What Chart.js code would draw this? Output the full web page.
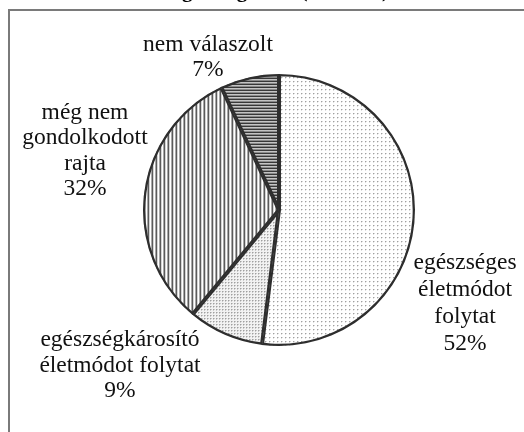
<!DOCTYPE html>
<html>
<head>
<meta charset="utf-8">
<script src="https://cdn.jsdelivr.net/npm/chart.js@4/dist/chart.umd.min.js"></script>
<style>
  html, body { margin: 0; padding: 0; background: #fff; }
  #wrap { width: 524px; height: 432px; }
</style>
</head>
<body>
<div id="wrap"><canvas id="chart-pie" width="524" height="432"></canvas></div>
<script>
// data
const categories = [
  'egészséges életmódot folytat',
  'egészségkárosító életmódot folytat',
  'még nem gondolkodott rajta',
  'nem válaszolt'
];
const shares = [52, 9, 32, 7];

// label text, broken into lines as in the picture
const labelLines = [
  ['egészséges', 'életmódot', 'folytat'],
  ['egészségkárosító', 'életmódot folytat'],
  ['még nem', 'gondolkodott', 'rajta'],
  ['nem válaszolt']
];

// where each label block sits (centre x, first line y, line gap)
const labelPos = [
  { x: 465, y: 263, gap: 27 },
  { x: 120, y: 340, gap: 25.5 },
  { x: 85, y: 113, gap: 25.3 },
  { x: 208, y: 45, gap: 25 }
];

const FONT = '"Liberation Serif", "DejaVu Serif", serif';

function makePattern(w, h, draw) {
  const c = document.createElement('canvas');
  c.width = w;
  c.height = h;
  const g = c.getContext('2d');
  draw(g);
  return g.createPattern(c, 'repeat');
}

function px(g, x, y, col) {
  g.fillStyle = col;
  g.fillRect(x, y, 1, 1);
}

// sparse dots
const patLight = makePattern(4, 4, g => {
  g.fillStyle = '#fff';
  g.fillRect(0, 0, 4, 4);
  px(g, 1, 1, '#a0a0a0');
  px(g, 2, 1, '#d8d8d8');
  px(g, 1, 2, '#e0e0e0');
});

// dense dots
const patDense = makePattern(3, 3, g => {
  g.fillStyle = '#f2f2f2';
  g.fillRect(0, 0, 3, 3);
  px(g, 0, 0, '#a0a0a0');
  px(g, 1, 0, '#c8c8c8');
  px(g, 0, 1, '#cccccc');
});

// vertical stripes
const patVert = makePattern(4, 4, g => {
  const cols = ['#5a5a5a', '#d4d4d4', '#ffffff', '#a8a8a8'];
  cols.forEach((col, i) => { g.fillStyle = col; g.fillRect(i, 0, 1, 4); });
});

// horizontal stripes
const patHorz = makePattern(3, 3, g => {
  const rows = ['#383838', '#c4c4c4', '#8a8a8a'];
  rows.forEach((col, i) => { g.fillStyle = col; g.fillRect(0, i, 3, 1); });
});

const framePlugin = {
  id: 'frame',
  beforeDraw(chart) {
    const ctx = chart.ctx;
    ctx.save();
    ctx.fillStyle = '#fff';
    ctx.fillRect(0, 0, chart.width, chart.height);
    // cut-off title at the very top
    ctx.fillStyle = '#000';
    ctx.font = 'bold 21px ' + FONT;
    ctx.textAlign = 'center';
    ctx.textBaseline = 'alphabetic';
    ctx.fillText('Az egészségtudat (százalék)', 266, -3);
    // frame
    ctx.strokeStyle = '#7a7a7a';
    ctx.lineWidth = 2;
    ctx.strokeRect(9, 10, 700, 700);
    ctx.restore();
  }
};

const labelPlugin = {
  id: 'sliceLabels',
  afterDraw(chart) {
    const ctx = chart.ctx;
    const values = chart.data.datasets[0].data;
    ctx.save();
    ctx.fillStyle = '#111';
    ctx.font = '23.5px ' + FONT;
    ctx.textAlign = 'center';
    ctx.textBaseline = 'middle';
    labelLines.forEach((lines, i) => {
      const p = labelPos[i];
      const all = lines.concat([values[i] + '%']);
      all.forEach((t, k) => ctx.fillText(t, p.x, p.y + k * p.gap));
    });
    ctx.restore();
  }
};

const config = {
  type: 'pie',
  data: {
    labels: categories,
    datasets: [
      {
        data: shares,
        backgroundColor: [patLight, patDense, patVert, patHorz],
        borderColor: '#2e2e2e',
        borderWidth: 2,
        borderAlign: 'inner'
      }
    ]
  },
  options: {
    responsive: false,
    animation: false,
    devicePixelRatio: 1,
    layout: {
      padding: { left: 143, right: 109, top: 74, bottom: 86 }
    },
    plugins: {
      legend: { display: false },
      tooltip: { enabled: false },
      title: { display: false }
    }
  },
  plugins: [framePlugin, labelPlugin]
};

new Chart(document.getElementById('chart-pie'), config);
</script>
</body>
</html>
